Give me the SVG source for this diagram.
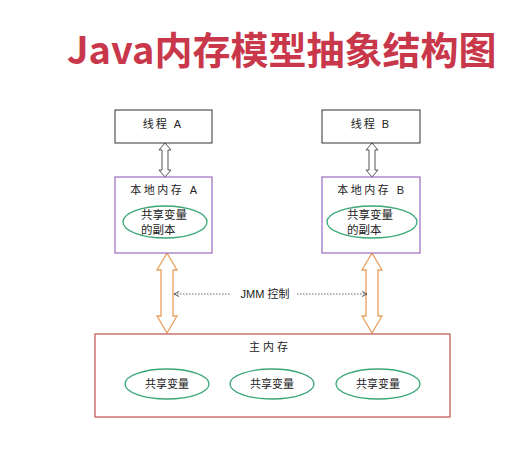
<svg xmlns="http://www.w3.org/2000/svg" width="517" height="451" viewBox="0 0 517 451">
<style>
.t{font-family:"Liberation Sans","Noto Sans CJK SC",sans-serif;font-size:11px;fill:#222;text-anchor:middle}
.ts{font-family:"Liberation Sans","Noto Sans CJK SC",sans-serif;font-size:11.5px;fill:#222;text-anchor:start}
.box{fill:#fff;stroke:#333;stroke-width:1}
.loc{fill:#fff;stroke:#9b6bc0;stroke-width:1.2}
.main{fill:#fff;stroke:#c0504d;stroke-width:1.2}
.ell{fill:#fff;stroke:#3aa776;stroke-width:1.3}
.da{fill:#fff;stroke:#555;stroke-width:1}
.oa{fill:#fff;stroke:#e8a060;stroke-width:1.3}
.dot{stroke:#666;stroke-width:1;stroke-dasharray:1.5 1.5;fill:none}
</style>
<defs>
<marker id="ah" markerWidth="6" markerHeight="6" refX="5" refY="3" orient="auto-start-reverse" markerUnits="userSpaceOnUse">
<path d="M0,0.5 L5,3 L0,5.5" fill="none" stroke="#555" stroke-width="1"/>
</marker>
</defs>
<rect width="517" height="451" fill="#fff"/>
<text x="67" y="64" font-family="'Noto Sans CJK SC','Liberation Sans',sans-serif" font-size="38" font-weight="bold" fill="#c8374a">Java内存模型抽象结构图</text>

<g id="connectors">
<path class="da" d="M165,143 L171,150 L168,150 L168,170 L171,170 L165,177 L159,170 L162,170 L162,150 L159,150 Z"/>
<path class="da" d="M372,143 L378,150 L375,150 L375,170 L378,170 L372,177 L366,170 L369,170 L369,150 L366,150 Z"/>
<path class="oa" d="M167,253 L177,270 L173,270 L173,316 L177,316 L167,333 L157,316 L161,316 L161,270 L157,270 Z"/>
<path class="oa" d="M372,253 L382,270 L378,270 L378,316 L382,316 L372,333 L362,316 L366,316 L366,270 L362,270 Z"/>
<line class="dot" x1="174" y1="294" x2="230" y2="294" marker-start="url(#ah)"/>
<line class="dot" x1="297" y1="294" x2="367" y2="294" marker-end="url(#ah)"/>
<text class="t" x="265" y="298">JMM 控制</text>
</g>

<g id="threadA">
<rect class="box" x="115" y="110" width="97" height="33"/>
<text class="t" x="163" y="128" letter-spacing="2">线程 A</text>
</g>
<g id="threadB">
<rect class="box" x="322" y="110" width="98" height="33"/>
<text class="t" x="371" y="128" letter-spacing="2">线程 B</text>
</g>

<g id="localA">
<rect class="loc" x="115" y="177" width="97" height="76"/>
<text class="t" x="165" y="194" letter-spacing="2.5">本地内存 A</text>
<ellipse class="ell" cx="165" cy="222" rx="42" ry="16"/>
<text class="ts" x="141" y="219">共享变量</text>
<text class="ts" x="141" y="234">的副本</text>
</g>
<g id="localB">
<rect class="loc" x="322" y="177" width="98" height="76"/>
<text class="t" x="372" y="194" letter-spacing="2.5">本地内存 B</text>
<ellipse class="ell" cx="372" cy="222" rx="45" ry="16"/>
<text class="ts" x="347" y="219">共享变量</text>
<text class="ts" x="347" y="234">的副本</text>
</g>

<g id="mainMemory">
<rect class="main" x="95" y="334" width="355" height="83"/>
<text class="t" x="270" y="351" letter-spacing="3">主内存</text>
</g>
<g id="var1">
<ellipse class="ell" cx="167" cy="384" rx="42" ry="15"/>
<text class="t" x="167" y="388">共享变量</text>
</g>
<g id="var2">
<ellipse class="ell" cx="272" cy="384" rx="42" ry="15"/>
<text class="t" x="272" y="388">共享变量</text>
</g>
<g id="var3">
<ellipse class="ell" cx="378" cy="384" rx="42" ry="15"/>
<text class="t" x="378" y="388">共享变量</text>
</g>
</svg>
